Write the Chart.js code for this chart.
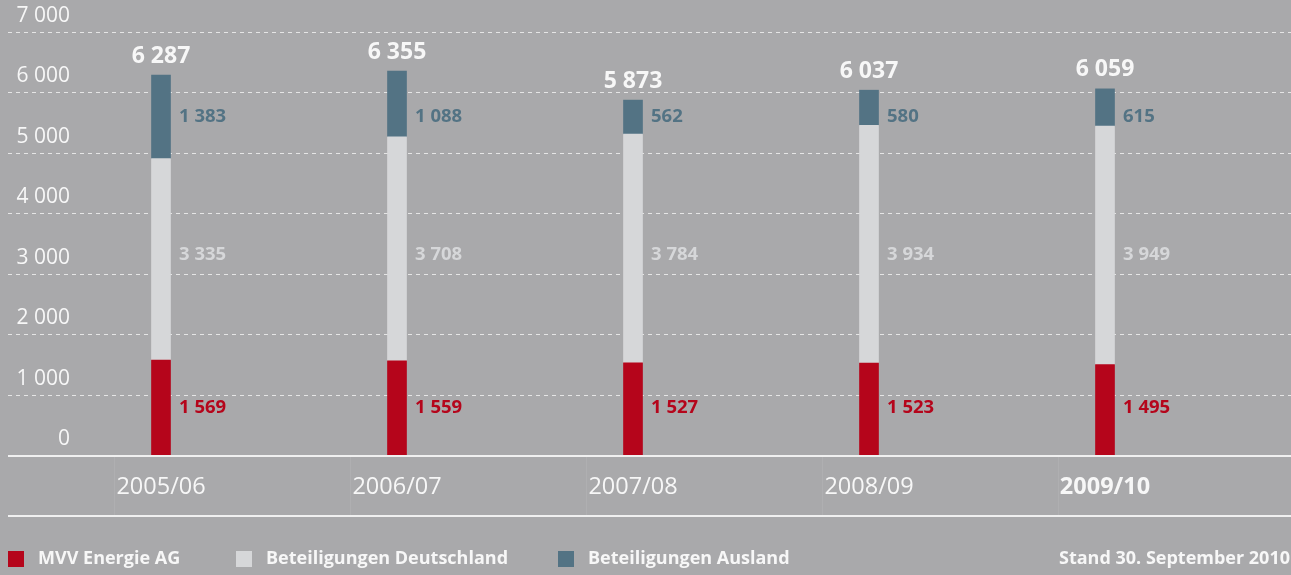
<!DOCTYPE html>
<html>
<head>
<meta charset="utf-8">
<script src="https://cdn.jsdelivr.net/npm/chart.js@4/dist/chart.umd.min.js"></script>
<style>
  html, body { margin: 0; padding: 0; background: #a9a9ab; overflow: hidden; }
  #wrap { width: 1291px; height: 575px; }
</style>
</head>
<body>
<div id="wrap"><canvas id="myChart" width="1291" height="575"></canvas></div>
<script>
const years = ['2005/06', '2006/07', '2007/08', '2008/09', '2009/10'];
const mvv = [1569, 1559, 1527, 1523, 1495];
const deutschland = [3335, 3708, 3784, 3934, 3949];
const ausland = [1383, 1088, 562, 580, 615];
const yTicks = [0, 1000, 2000, 3000, 4000, 5000, 6000, 7000];
const seriesNames = ['MVV Energie AG', 'Beteiligungen Deutschland', 'Beteiligungen Ausland'];
const footnote = 'Stand 30. September 2010';

const RED = '#b5051b';
const LIGHT = '#d6d7d9';
const DARK = '#537384';
const BG = '#a9a9ab';
const WHITE = '#f7f7f7';
const FONT = '"Open Sans", "DejaVu Sans", sans-serif';

const fmt = (n) => {
  if (n < 1000) return String(n);
  return Math.floor(n / 1000) + ' ' + String(n % 1000).padStart(3, '0');
};

// labels sit at fixed heights in the original, not in segment middles
const labelLevels = [780, 3320, 5590];

const decor = {
  id: 'decor',
  beforeDraw(chart) {
    const ctx = chart.ctx;
    const y = chart.scales.y;
    const x = chart.scales.x;
    const W = chart.width;
    ctx.save();
    ctx.fillStyle = BG;
    ctx.fillRect(0, 0, W, chart.height);

    // dashed gridlines + tick labels
    ctx.strokeStyle = 'rgba(235,235,235,0.9)';
    ctx.lineWidth = 1;
    ctx.setLineDash([4, 4]);
    yTicks.forEach((t) => {
      const py = Math.round(y.getPixelForValue(t)) + 0.5;
      if (t > 0) {
        ctx.beginPath();
        ctx.moveTo(8, py);
        ctx.lineTo(W, py);
        ctx.stroke();
      }
      ctx.font = '21px ' + FONT;
      ctx.fillStyle = WHITE;
      ctx.textAlign = 'right';
      ctx.textBaseline = 'middle';
      ctx.fillText(fmt(t), 70, py - 16);
    });
    ctx.setLineDash([]);

    // solid base line and lower rule
    const base = Math.round(y.getPixelForValue(0));
    ctx.fillStyle = '#f0f0f0';
    ctx.fillRect(8, base, W - 8, 2);
    ctx.fillRect(8, base + 60, W - 8, 2);

    // faint separators in the label band
    ctx.strokeStyle = 'rgba(255,255,255,0.08)';
    years.forEach((_, i) => {
      const px = Math.round(x.getPixelForValue(i)) - 46.5;
      ctx.beginPath();
      ctx.moveTo(px, base + 2);
      ctx.lineTo(px, base + 60);
      ctx.stroke();
    });
    ctx.restore();
  },
  afterDatasetsDraw(chart) {
    const ctx = chart.ctx;
    const y = chart.scales.y;
    const x = chart.scales.x;
    const base = y.getPixelForValue(0);
    ctx.save();
    const colors = [RED, LIGHT, DARK];
    const series = [mvv, deutschland, ausland];

    years.forEach((yr, i) => {
      const cx = x.getPixelForValue(i);
      // segment values
      series.forEach((s, k) => {
        ctx.font = 'bold 18.5px ' + FONT;
        ctx.fillStyle = colors[k];
        ctx.textAlign = 'left';
        ctx.textBaseline = 'middle';
        ctx.fillText(fmt(s[i]), cx + 18, y.getPixelForValue(labelLevels[k]));
      });
      // totals
      const total = mvv[i] + deutschland[i] + ausland[i];
      ctx.font = 'bold 23px ' + FONT;
      ctx.fillStyle = WHITE;
      ctx.textAlign = 'center';
      ctx.fillText(fmt(total), cx, y.getPixelForValue(total) - 19);
      // category labels
      ctx.font = (i === years.length - 1 ? 'bold ' : '') + '23.5px ' + FONT;
      ctx.fillText(yr, cx, base + 32);
    });

    // legend
    const legendX = [8, 236, 558];
    ctx.font = 'bold 18px ' + FONT;
    ctx.textAlign = 'left';
    ctx.textBaseline = 'middle';
    seriesNames.forEach((n, k) => {
      ctx.fillStyle = colors[k];
      ctx.fillRect(legendX[k], 551, 16, 16);
      ctx.fillStyle = WHITE;
      ctx.fillText(n, legendX[k] + 30, 559);
    });
    ctx.fillText(footnote, 1059, 559);
    ctx.restore();
  }
};

const ctx = document.getElementById('myChart').getContext('2d');
const myChart = new Chart(ctx, {
  type: 'bar',
  data: {
    labels: years,
    datasets: [
      { label: seriesNames[0], data: mvv, backgroundColor: RED },
      { label: seriesNames[1], data: deutschland, backgroundColor: LIGHT },
      { label: seriesNames[2], data: ausland, backgroundColor: DARK },
    ],
  },
  options: {
    responsive: false,
    animation: false,
    events: [],
    layout: { padding: { left: 43, right: 68, top: 32, bottom: 120 } },
    datasets: { bar: { barThickness: 19, borderWidth: 0 } },
    plugins: { legend: { display: false }, tooltip: { enabled: false } },
    scales: {
      x: { stacked: true, display: false },
      y: { stacked: true, display: false, min: 0, max: 7000 },
    },
  },
  plugins: [decor],
});
</script>
</body>
</html>
